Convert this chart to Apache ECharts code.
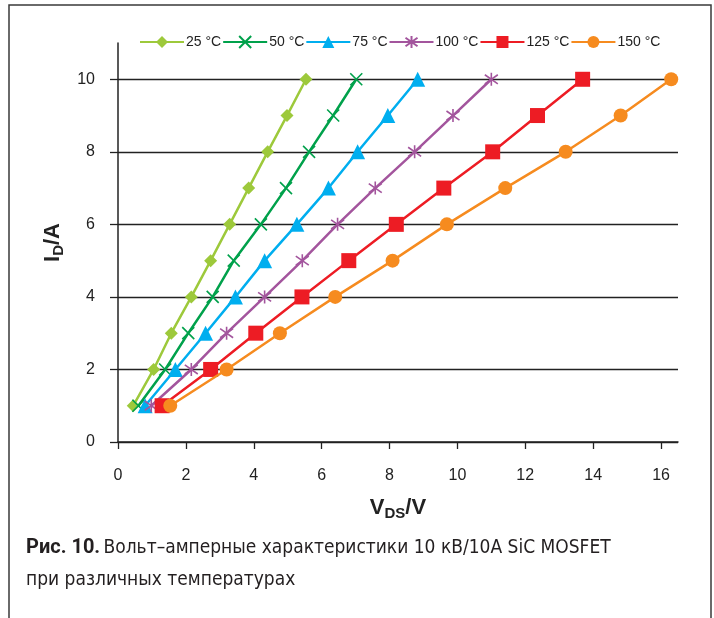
<!DOCTYPE html>
<html>
<head>
<meta charset="utf-8">
<script src="https://cdn.jsdelivr.net/npm/echarts@6/dist/echarts.min.js"></script>
<style>
  html, body { margin: 0; padding: 0; background: #fff; }
  #chart { width: 714px; height: 618px; }
</style>
</head>
<body>
<div id="chart"></div>
<script>
// drain current values, same for every curve
const idValues = [1, 2, 3, 4, 5, 6, 7, 8, 9, 10];

// V_DS for each temperature
const vds25  = [0.45, 1.05, 1.57, 2.16, 2.73, 3.29, 3.85, 4.41, 4.98, 5.54];
const vds50  = [0.6, 1.39, 2.07, 2.79, 3.41, 4.21, 4.95, 5.63, 6.34, 7.02];
const vds75  = [0.8, 1.69, 2.58, 3.46, 4.32, 5.27, 6.2, 7.06, 7.95, 8.83];
const vds100 = [0.98, 2.16, 3.2, 4.32, 5.43, 6.47, 7.58, 8.74, 9.87, 11.0];
const vds125 = [1.3, 2.73, 4.06, 5.42, 6.8, 8.2, 9.6, 11.04, 12.36, 13.69];
const vds150 = [1.54, 3.2, 4.77, 6.4, 8.09, 9.69, 11.41, 13.19, 14.81, 16.3];

const seriesNames = ['25 °C', '50 °C', '75 °C', '100 °C', '125 °C', '150 °C'];
const seriesVds = [vds25, vds50, vds75, vds100, vds125, vds150];
const seriesColors = ['#9dc93b', '#00a14b', '#00aeef', '#a3559d', '#ed1c24', '#f68b1f'];

const crossPath = 'path://M0,0L10,10M10,0L0,10';
const starPath = 'path://M5,0L5,10M0,1.5L10,8.5M0,8.5L10,1.5';

const markers = [
    { symbol: 'diamond', size: 13, stroke: false },
    { symbol: crossPath, size: 12, stroke: true },
    { symbol: 'triangle', size: 15, stroke: false },
    { symbol: starPath, size: 13, stroke: true },
    { symbol: 'rect', size: 15, stroke: false },
    { symbol: 'circle', size: 14, stroke: false }
];

const font = "'Liberation Sans', Arial, sans-serif";
const narrow = "'Liberation Sans Narrow', 'DejaVu Sans Condensed', 'Liberation Sans', sans-serif";

let chart = echarts.init(document.getElementById('chart'));

let series = seriesNames.map((name, i) => {
    let m = markers[i];
    return {
        name: name,
        type: 'line',
        data: seriesVds[i].map((v, k) => [v, idValues[k]]),
        symbol: m.symbol,
        symbolSize: m.size,
        showAllSymbol: true,
        lineStyle: { color: seriesColors[i], width: 2.5 },
        itemStyle: m.stroke
            ? { color: 'rgba(0,0,0,0)', borderColor: seriesColors[i], borderWidth: 1.6 }
            : { color: seriesColors[i], borderWidth: 0 },
        emphasis: { disabled: true },
        z: 3 + i
    };
});

chart.setOption({
    animation: false,
    textStyle: { fontFamily: font },
    legend: {
        top: 30,
        left: 134,
        itemWidth: 44,
        itemHeight: 15,
        itemGap: 1,
        textStyle: { fontSize: 14, color: '#222', fontFamily: font, padding: [0, 0, 0, -3] },
        data: seriesNames
    },
    grid: { left: 118, right: 36, top: 43, bottom: 176 },
    xAxis: {
        type: 'value',
        min: 0,
        max: 16.5,
        interval: 2,
        name: '{v|V}{s|DS}{v|/V}',
        nameLocation: 'middle',
        nameGap: 52,
        nameTextStyle: {
            rich: {
                v: { fontSize: 22, fontWeight: 'bold', color: '#222', fontFamily: font },
                s: { fontSize: 15, fontWeight: 'bold', color: '#222', fontFamily: font, verticalAlign: 'bottom', padding: [12, 0, 0, 0] }
            }
        },
        axisLine: { lineStyle: { color: '#222', width: 1.5 } },
        axisTick: { show: true, length: 7, lineStyle: { color: '#222', width: 1.3 } },
        axisLabel: {
            color: '#222', fontSize: 16, margin: 26,
            showMaxLabel: false,
            formatter: v => (v % 2 === 0 ? String(v) : '')
        },
        splitLine: { show: false }
    },
    yAxis: {
        type: 'value',
        min: 0,
        max: 11,
        interval: 2,
        name: '{v|I}{s|D}{v|/A}',
        nameLocation: 'middle',
        nameRotate: 90,
        nameGap: 47,
        nameTextStyle: {
            rich: {
                v: { fontSize: 22, fontWeight: 'bold', color: '#222', fontFamily: font },
                s: { fontSize: 15, fontWeight: 'bold', color: '#222', fontFamily: font, verticalAlign: 'bottom', padding: [12, 0, 0, 0] }
            }
        },
        axisLine: { show: true, lineStyle: { color: '#222', width: 1.5 } },
        axisTick: { show: true, length: 8, lineStyle: { color: '#222', width: 1.3 } },
        axisLabel: {
            color: '#222', fontSize: 16, margin: 23,
            showMaxLabel: false,
            formatter: v => (v % 2 === 0 ? String(v) : '')
        },
        splitLine: { show: true, showMaxLine: false, lineStyle: { color: '#222', width: 1.3 } }
    },
    graphic: [
        {
            type: 'rect',
            shape: { x: 9, y: 5, width: 702, height: 640 },
            style: { fill: 'none', stroke: '#3a3a3a', lineWidth: 1.5 },
            silent: true
        },
        {
            type: 'text',
            left: 26,
            top: 538,
            style: {
                text: '{b|Рис. 10.} {r|Вольт–амперные характеристики 10 кВ/10А SiC MOSFET}\n{r|при различных температурах}',
                rich: {
                    b: { fontSize: 20, fontWeight: 'bold', fill: '#231f20', fontFamily: "'Roboto', sans-serif", lineHeight: 32 },
                    r: { fontSize: 19, fill: '#231f20', fontFamily: narrow, lineHeight: 32 }
                }
            }
        }
    ],
    series: series
});
</script>
</body>
</html>
